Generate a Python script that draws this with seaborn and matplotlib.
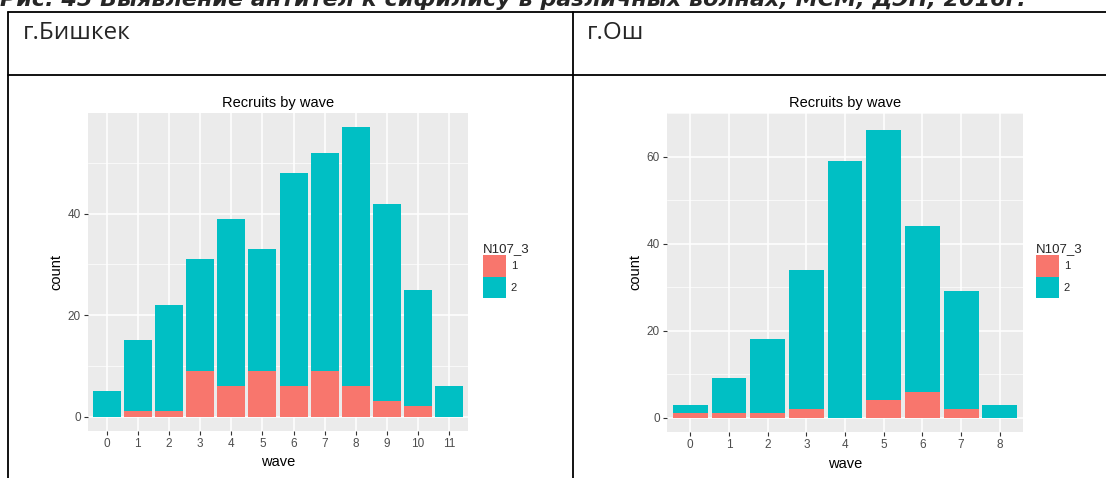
import matplotlib
matplotlib.use("Agg")
import matplotlib.pyplot as plt
from matplotlib.patches import Patch
from matplotlib.lines import Line2D
import seaborn as sns

# data
bishkek_waves = ["0", "1", "2", "3", "4", "5", "6", "7", "8", "9", "10", "11"]
bishkek_total = [5, 15, 22, 31, 39, 33, 48, 52, 57, 42, 25, 6]
bishkek_n1 = [0, 1, 1, 9, 6, 9, 6, 9, 6, 3, 2, 0]

osh_waves = ["0", "1", "2", "3", "4", "5", "6", "7", "8"]
osh_total = [3, 9, 18, 34, 59, 66, 44, 29, 3]
osh_n1 = [1, 1, 1, 2, 0, 4, 6, 2, 0]

legend_title = "N107_3"
legend_labels = ["1", "2"]
fig_title = "Рис. 45 Выявление антител к сифилису в различных волнах, МСМ, ДЭН, 2016г."
cities = ["г.Бишкек", "г.Ош"]

RED = "#F8766D"
TEAL = "#00BFC4"

sns.set_theme(style="darkgrid", rc={"axes.facecolor": "#EBEBEB", "grid.color": "white"})
plt.rcParams["font.family"] = ["Liberation Sans", "DejaVu Sans"]

W, H = 1106, 478
fig = plt.figure(figsize=(W / 100, H / 100), dpi=100)
fig.patch.set_facecolor("white")


def px_axes(x0, y0, x1, y1):
    return fig.add_axes([x0 / W, 1 - y1 / H, (x1 - x0) / W, (y1 - y0) / H])


def draw_panel(ax, waves, total, n1, yticks, legend_x):
    sns.barplot(x=waves, y=total, order=waves, color=TEAL, saturation=1,
                width=0.9, linewidth=0, errorbar=None, ax=ax)
    sns.barplot(x=waves, y=n1, order=waves, color=RED, saturation=1,
                width=0.9, linewidth=0, errorbar=None, ax=ax)
    ymax = max(total)
    ax.set_xlim(-0.6, len(waves) - 0.4)
    ax.set_ylim(-0.05 * ymax, 1.05 * ymax)
    ax.set_yticks(yticks)
    ax.set_yticks([t + 10 for t in yticks], minor=True)
    ax.set_axisbelow(True)
    ax.grid(which="major", color="white", linewidth=1.1)
    ax.grid(which="minor", axis="y", color="white", linewidth=0.5)
    for s in ax.spines.values():
        s.set_visible(False)
    ax.tick_params(which="major", bottom=True, left=True, length=3, width=0.8,
                   color="#333333", labelcolor="#4D4D4D", labelsize=8.5, pad=2)
    ax.tick_params(which="minor", length=0)
    ax.set_title("Recruits by wave", fontsize=10.5, pad=4, color="black")
    ax.set_xlabel("wave", fontsize=10.5, labelpad=4, color="black")
    ax.set_ylabel("count", fontsize=10.5, labelpad=3, color="black")

    handles = [Patch(facecolor=RED, edgecolor="none"), Patch(facecolor=TEAL, edgecolor="none")]
    ax.legend(handles, legend_labels, title=legend_title, loc="upper left",
              bbox_to_anchor=(legend_x / W, 1 - 243 / H), bbox_transform=fig.transFigure,
              frameon=False, fontsize=8, title_fontsize=9.5, handlelength=2.1,
              handleheight=2.6, labelspacing=0.0, handletextpad=0.4,
              borderpad=0, borderaxespad=0, alignment="left")


ax1 = px_axes(88, 113, 468, 431)
draw_panel(ax1, bishkek_waves, bishkek_total, bishkek_n1, [0, 20, 40], 483)

ax2 = px_axes(667, 113, 1023, 432)
draw_panel(ax2, osh_waves, osh_total, osh_n1, [0, 20, 40, 60], 1036)

# document table around the charts
line_kw = dict(color="black", linewidth=1.3, transform=fig.transFigure)
fig.add_artist(Line2D([8 / W, 1], [1 - 12 / H, 1 - 12 / H], **line_kw))
fig.add_artist(Line2D([8 / W, 1], [1 - 75 / H, 1 - 75 / H], **line_kw))
fig.add_artist(Line2D([8 / W, 8 / W], [0, 1 - 12 / H], **line_kw))
fig.add_artist(Line2D([573 / W, 573 / W], [0, 1 - 12 / H], **line_kw))

fig.text(23 / W, 1 - 39 / H, cities[0], fontsize=17.5, family="Open Sans", va="baseline")
fig.text(587 / W, 1 - 39 / H, cities[1], fontsize=17.5, family="Open Sans", va="baseline")

# caption sits partly above the page edge, as in the source screenshot
fig.text(0, 1 - 6 / H, fig_title, fontsize=16, family="DejaVu Sans",
         fontweight="bold", fontstyle="italic", va="baseline")

fig.savefig("out.png", dpi=100)
